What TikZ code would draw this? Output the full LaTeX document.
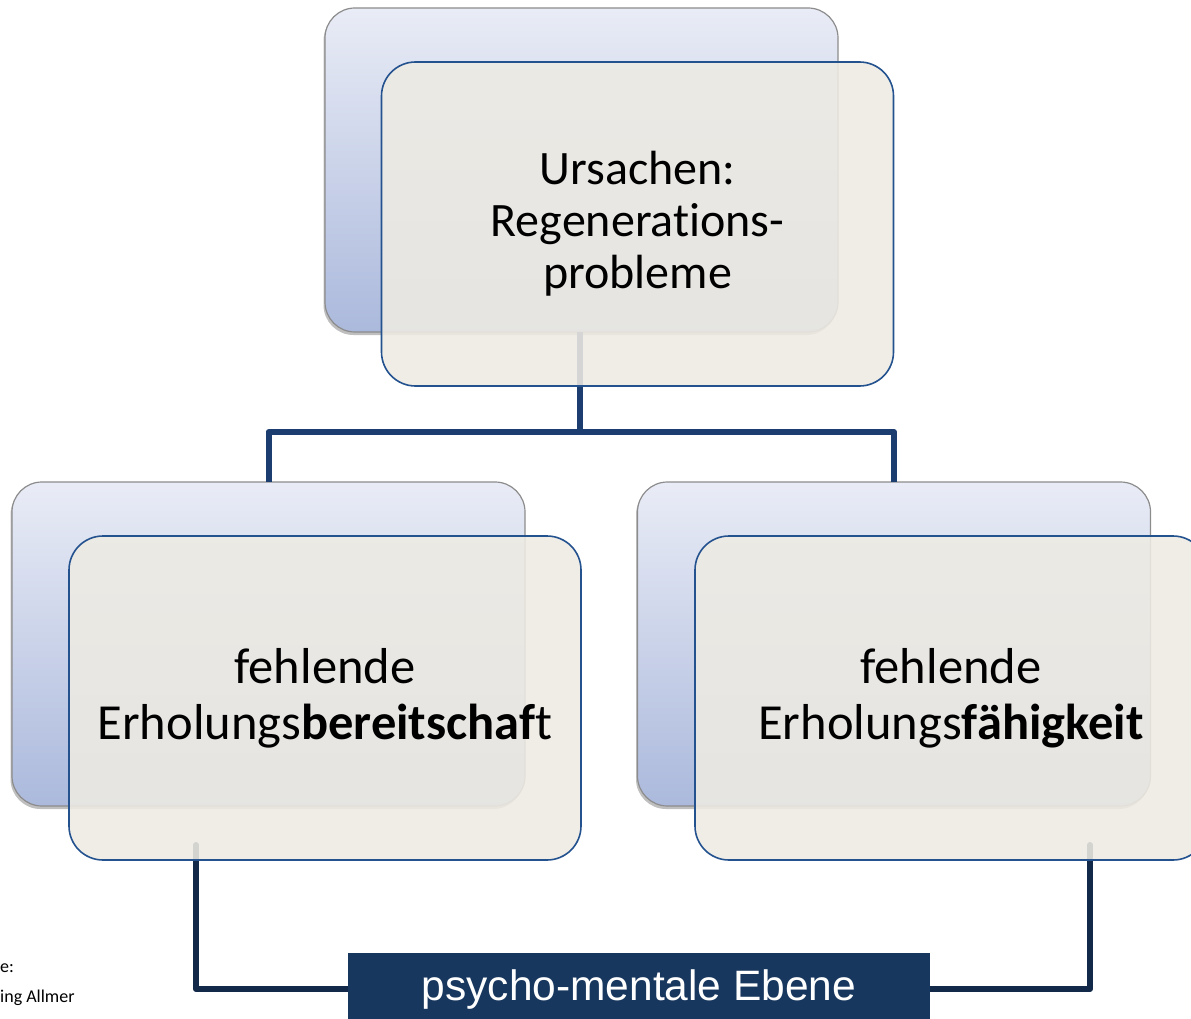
\documentclass[tikz,border=0pt]{standalone}
\usepackage{fontspec}
\setmainfont{Carlito}[Ligatures=NoCommon]
\newfontfamily\arialish{Liberation Sans}
\usetikzlibrary{shadows}

\definecolor{backTop}{HTML}{E9ECF6}
\definecolor{backBot}{HTML}{ABB9DC}
\definecolor{backEdge}{HTML}{8C8C8C}
\definecolor{frontFill}{HTML}{EEEBE3}
\definecolor{frontEdge}{HTML}{24528F}
\definecolor{linkTop}{HTML}{1B3D6F}
\definecolor{linkBot}{HTML}{13294A}
\definecolor{levelFill}{HTML}{18375E}

\tikzset{
  backbox/.style={rectangle, rounded corners=30pt, inner sep=0pt, outer sep=0pt,
    minimum width=513pt, minimum height=324pt, draw=backEdge, line width=1.2pt,
    top color=backTop, bottom color=backBot,
    drop shadow={shadow xshift=-1.5pt, shadow yshift=-3pt, opacity=0.25, fill=black}},
  frontbox/.style={rectangle, rounded corners=34pt, inner sep=0pt, outer sep=0pt,
    minimum width=512pt, minimum height=324pt, draw=frontEdge, line width=1.6pt,
    fill=frontFill, fill opacity=0.88, text opacity=1, align=center},
  linkup/.style={draw=linkTop, line width=6pt, line join=round},
  linkdown/.style={draw=linkBot, line width=6pt, line join=round, line cap=round},
  levelbox/.style={rectangle, inner sep=0pt, outer sep=0pt, fill=levelFill,
    minimum width=582pt, minimum height=74pt, text=white,
    font=\arialish\fontsize{42.5}{48}\selectfont},
  boxtext/.style={font=\fontsize{48}{52}\selectfont},
  sidetext/.style={font=\fontsize{50.5}{56}\selectfont},
  sourcetext/.style={inner sep=0pt, anchor=west, font=\fontsize{18}{20}\selectfont}
}

\begin{document}
\begin{tikzpicture}[x=1pt, y=-1pt]
  \useasboundingbox (0,0) rectangle (1191,1019);
  \clip (0,0) rectangle (1191,1019);

  % back plates
  \node[backbox] (topBack)   at (581.5,170) {};
  \node[backbox] (leftBack)  at (268.5,644) {};
  \node[backbox] (rightBack) at (894,644) {};

  % tree connectors, running behind the front cards
  \coordinate (bus) at (0,432);
  \coordinate (topStub) at (580,332);
  \draw[linkup] (topStub) -- (topStub |- bus) -| (leftBack.north);
  \draw[linkup] (topStub |- bus) -| (rightBack.north);

  % bottom level bar and its connectors
  \coordinate (leftStub)  at (196,845);
  \coordinate (rightStub) at (1090,845);
  \coordinate (barLine)   at (0,989);
  \draw[linkdown] (leftStub) -- (leftStub |- barLine) -- (640,989);
  \draw[linkdown] (rightStub) -- (rightStub |- barLine) -- (640,989);
  \node[levelbox] (level) at (639,990) {psycho-mentale Ebene};

  % front cards (kern keeps t and i as separate glyphs)
  \node[frontbox, boxtext] (topFront) at (637.5,224)
    {Ursachen:\\Regenerat\kern0pt ions-\\probleme};
  \node[frontbox, sidetext] (leftFront) at (325,698)
    {fehlende\\Erholungs\textbf{bereitschaf}t};
  \node[frontbox, sidetext] (rightFront) at (951,698)
    {fehlende\\Erholungs\textbf{fähigkeit}};

  % source note at the left margin
  \node[sourcetext] (srcA) at (0,968) {e:};
  \node[sourcetext] (srcB) at (0,998) {ing Allmer};
\end{tikzpicture}
\end{document}
